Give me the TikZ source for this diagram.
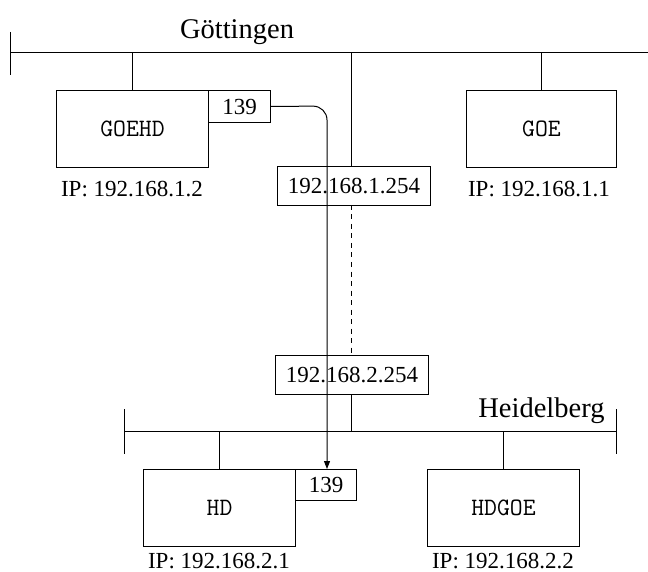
\documentclass[tikz,border=0pt]{standalone}
\usepackage{fontspec}
\setmainfont{Liberation Serif}
\usetikzlibrary{arrows.meta}
\begin{document}
\begin{tikzpicture}[x=1pt,y=-1pt,line width=1pt,
  hostbox/.style={draw,rectangle,inner sep=0pt,minimum width=152pt,minimum height=77pt,anchor=north west,font=\ttfamily\fontsize{25}{28}\selectfont},
  portbox/.style={draw,rectangle,inner sep=0pt,anchor=north west,font=\fontsize{23}{26}\selectfont},
  iplabel/.style={anchor=base,inner sep=0pt,font=\fontsize{23}{26}\selectfont},
  netlabel/.style={inner sep=0pt,font=\fontsize{28.5}{32}\selectfont}]
\useasboundingbox (0,0) rectangle (648,572);
% Goettingen bus
\coordinate (b1l) at (10,53);
\coordinate (b1r) at (652,53);
\draw (b1l) -- (b1r);
\draw (10,32) -- (10,75);
\node[netlabel,anchor=base] (gname) at (237,39) {Göttingen};
% hosts
\node[hostbox] (goehd) at (56,90) {GOEHD};
\node[portbox,minimum width=62pt,minimum height=32pt] (p1) at (208,90) {139};
\node[hostbox,minimum width=150pt] (goe) at (466,90) {GOE};
\draw (goehd.north |- b1l) -- (goehd.north);
\draw (goe.north |- b1l) -- (goe.north);
\node[iplabel] (ip1) at (132,197) {IP: 192.168.1.2};
\node[iplabel] (ip2) at (539,197) {IP: 192.168.1.1};
% router
\node[portbox,minimum width=153pt,minimum height=39pt] (r1) at (277,166) {192.168.1.254};
\node[portbox,minimum width=153pt,minimum height=39pt] (r2) at (275,355) {192.168.2.254};
\draw (351,53) -- (351,166);
\draw[dash pattern=on 5pt off 4.5pt] (351,205) -- (351,355);
% Heidelberg bus
\coordinate (b2l) at (124,431);
\coordinate (b2r) at (616,431);
\draw (b2l) -- (b2r);
\draw (124,409) -- (124,454);
\draw (616,409) -- (616,454);
\draw (351,394) -- (351,431);
\node[netlabel,anchor=base east] (hname) at (605,417) {Heidelberg};
\node[hostbox] (hd) at (143,469) {HD};
\node[portbox,minimum width=61pt,minimum height=31pt] (p2) at (295,469) {139};
\node[hostbox] (hdgoe) at (427,469) {HDGOE};
\draw (hd.north |- b2l) -- (hd.north);
\draw (hdgoe.north |- b2l) -- (hdgoe.north);
\node[iplabel] (ip3) at (219,568) {IP: 192.168.2.1};
\node[iplabel] (ip4) at (503,568) {IP: 192.168.2.2};
% connection
\draw[-{Triangle[length=8pt,width=6pt]},rounded corners=14pt] (p1.east) -- (327,106) -- (327,469);
\end{tikzpicture}
\end{document}
